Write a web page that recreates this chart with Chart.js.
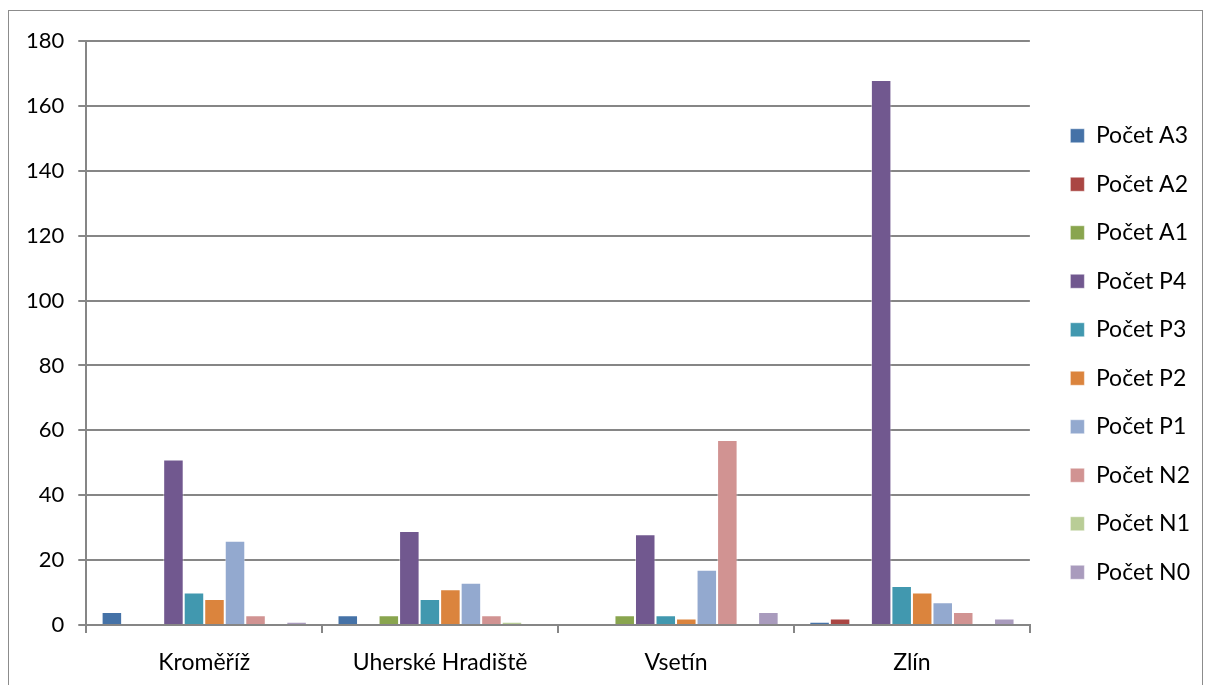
<!DOCTYPE html>
<html>
<head>
<meta charset="utf-8">
<script src="https://cdn.jsdelivr.net/npm/chart.js@4/dist/chart.umd.min.js"></script>
<style>
  html, body { margin: 0; padding: 0; background: #fff; }
  #frame { position: absolute; left: 8px; top: 10px; width: 1195px; height: 690px; border: 1px solid #8c8c8c; box-sizing: border-box; }
  #wrap { position: absolute; left: 0; top: 0; width: 1207px; height: 685px; }
</style>
</head>
<body>
<div id="frame"></div>
<div id="wrap"><canvas id="c" width="1207" height="685"></canvas></div>
<script>
// Districts along the category axis
const districts = ['Kroměříž', 'Uherské Hradiště', 'Vsetín', 'Zlín'];

// Counts per category for each district
const pocetA3 = [4, 3, 0, 1];
const pocetA2 = [0, 0, 0, 2];
const pocetA1 = [0, 3, 3, 0];
const pocetP4 = [51, 29, 28, 168];
const pocetP3 = [10, 8, 3, 12];
const pocetP2 = [8, 11, 2, 10];
const pocetP1 = [26, 13, 17, 7];
const pocetN2 = [3, 3, 57, 4];
const pocetN1 = [0, 1, 0, 0];
const pocetN0 = [1, 0, 4, 2];

const seriesNames = ['Počet A3', 'Počet A2', 'Počet A1', 'Počet P4', 'Počet P3',
                     'Počet P2', 'Počet P1', 'Počet N2', 'Počet N1', 'Počet N0'];
const seriesValues = [pocetA3, pocetA2, pocetA1, pocetP4, pocetP3,
                      pocetP2, pocetP1, pocetN2, pocetN1, pocetN0];
const seriesColors = ['#4572A7', '#AA4643', '#89A54E', '#71588F', '#4198AF',
                      '#DB843D', '#93A9CF', '#D19392', '#B9CD96', '#A99BBD'];

// Y axis range
const yMin = 0, yMax = 180, yStep = 20;

const gridColor = '#868686';
const fontFamily = 'Lato, "Open Sans", sans-serif';

const datasets = seriesNames.map((name, i) => ({
  label: name,
  data: seriesValues[i],
  backgroundColor: seriesColors[i],
  borderColor: 'rgba(255,255,255,0.45)',
  borderWidth: 1,
  categoryPercentage: 0.87,
  barPercentage: 1.0
}));

// Empty spacer scales that only reserve room around the plot area
const spacer = (size) => ({
  display: true,
  grid: { display: false },
  border: { display: false },
  ticks: { display: false },
  afterFit: (scale) => {
    if (scale.isHorizontal()) scale.height = size; else scale.width = size;
  }
});

new Chart(document.getElementById('c'), {
  type: 'bar',
  data: { labels: districts, datasets },
  options: {
    responsive: false,
    animation: false,
    devicePixelRatio: 1,
    layout: { padding: { left: 12, top: 23, right: 7, bottom: 0 } },
    plugins: {
      tooltip: { enabled: false },
      legend: {
        position: 'right',
        labels: {
          boxWidth: 14,
          boxHeight: 14,
          padding: 25.5,
          color: '#000',
          font: { family: fontFamily, size: 23 }
        }
      }
    },
    scales: {
      x: {
        offset: true,
        grid: {
          display: true,
          offset: true,
          drawOnChartArea: false,
          drawTicks: true,
          tickLength: 8,
          color: gridColor,
          lineWidth: 2
        },
        border: { display: true, color: gridColor, width: 2 },
        ticks: { color: '#000', padding: 16, font: { family: fontFamily, size: 23 } },
        afterFit: (scale) => { scale.height = 60; }
      },
      y: {
        min: yMin,
        max: yMax,
        grid: { color: gridColor, lineWidth: 2, tickLength: 8 },
        border: { display: true, color: gridColor, width: 2 },
        ticks: { stepSize: yStep, color: '#000', padding: 14, font: { family: fontFamily, size: 22 } }
      },
      gapTop: Object.assign({ type: 'category', position: 'top' }, spacer(18)),
      gapRight: Object.assign({ type: 'linear', position: 'right' }, spacer(15))
    }
  }
});
</script>
</body>
</html>
